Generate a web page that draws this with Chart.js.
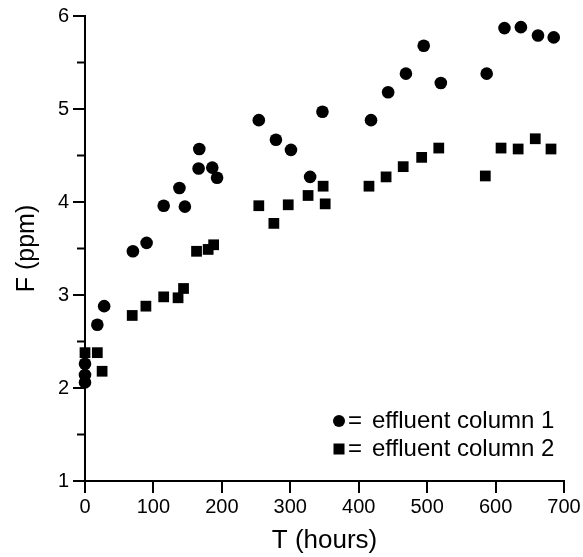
<!DOCTYPE html>
<html>
<head>
<meta charset="utf-8">
<script src="https://cdn.jsdelivr.net/npm/chart.js@4"></script>
<style>
  html, body { margin: 0; padding: 0; background: #fff; }
  #wrap { width: 583px; height: 557px; }
</style>
</head>
<body>
<div id="wrap"><canvas id="chart"></canvas></div>
<script>
// effluent column 1 (circles)
const col1X = [0, 0, 0, 18, 28, 70, 90, 115, 138, 146, 166, 167, 186, 193, 254, 279, 301, 329, 347, 418, 443, 469, 495, 520, 587, 613, 637, 662, 685];
const col1Y = [2.26, 2.14, 2.06, 2.68, 2.88, 3.47, 3.56, 3.96, 4.15, 3.95, 4.36, 4.57, 4.37, 4.26, 4.88, 4.67, 4.56, 4.27, 4.97, 4.88, 5.18, 5.38, 5.68, 5.28, 5.38, 5.87, 5.88, 5.79, 5.77];

// effluent column 2 (squares)
const col2X = [0, 18, 25, 69, 89, 115, 136, 144, 163, 180, 188, 254, 276, 297, 326, 348, 351, 415, 440, 465, 492, 517, 585, 608, 633, 658, 681];
const col2Y = [2.38, 2.38, 2.18, 2.78, 2.88, 2.98, 2.97, 3.07, 3.47, 3.49, 3.54, 3.96, 3.77, 3.97, 4.07, 4.17, 3.98, 4.17, 4.27, 4.38, 4.48, 4.58, 4.28, 4.58, 4.57, 4.68, 4.57];

const xTicks = [0, 100, 200, 300, 400, 500, 600, 700];
const yTicks = [1, 2, 3, 4, 5, 6];
const yMinor = [1.5, 2.5, 3.5, 4.5, 5.5];

const legendLabels = ["effluent column 1", "effluent column 2"];

const toPoints = (xs, ys) => xs.map((x, i) => ({ x, y: ys[i] }));

// minor ticks on y axis + legend inside plot
const extras = {
  id: "extras",
  afterDraw(chart) {
    const ctx = chart.ctx;
    const y = chart.scales.y;
    ctx.save();
    ctx.strokeStyle = "#000";
    ctx.lineWidth = 2;
    yMinor.forEach((v) => {
      const py = y.getPixelForValue(v);
      ctx.beginPath();
      ctx.moveTo(y.right - 8, py);
      ctx.lineTo(y.right, py);
      ctx.stroke();
    });

    // legend
    ctx.fillStyle = "#000";
    ctx.font = "24px 'Liberation Sans', Arial, sans-serif";
    ctx.textBaseline = "middle";
    const lx = 339;
    const rows = [421, 449];
    ctx.beginPath();
    ctx.arc(lx, rows[0], 6, 0, Math.PI * 2);
    ctx.fill();
    ctx.fillRect(lx - 5.5, rows[1] - 5.5, 11, 11);
    legendLabels.forEach((t, i) => {
      ctx.fillText("=", lx + 9, rows[i]);
      ctx.fillText(t, lx + 33, rows[i]);
    });
    ctx.restore();
  },
};

new Chart(document.getElementById("chart"), {
  type: "scatter",
  data: {
    datasets: [
      {
        label: "effluent column 1",
        data: toPoints(col1X, col1Y),
        pointStyle: "circle",
        pointRadius: 6.3,
        backgroundColor: "#000",
        borderWidth: 0,
      },
      {
        label: "effluent column 2",
        data: toPoints(col2X, col2Y),
        pointStyle: "rect",
        pointRadius: 7.6,
        backgroundColor: "#000",
        borderWidth: 0,
      },
    ],
  },
  plugins: [extras],
  options: {
    responsive: true,
    maintainAspectRatio: false,
    animation: false,
    clip: false,
    layout: { padding: { top: 15, right: 19, left: 0, bottom: 0 } },
    plugins: {
      legend: { display: false },
      tooltip: { enabled: false },
    },
    scales: {
      x: {
        type: "linear",
        min: 0,
        max: 700,
        afterFit: (s) => { s.height = 76; },
        afterBuildTicks: (s) => { s.ticks = xTicks.map((v) => ({ value: v })); },
        border: { color: "#000", width: 2 },
        grid: { drawOnChartArea: false, drawTicks: true, tickLength: 12, color: "#000", lineWidth: 2 },
        ticks: {
          color: "#000",
          padding: 2,
          font: { family: "'Liberation Sans', Arial, sans-serif", size: 20 },
        },
        title: {
          display: true,
          text: "T (hours)",
          color: "#000",
          padding: { top: 0, bottom: 1 },
          font: { family: "'Liberation Sans', Arial, sans-serif", size: 26 },
        },
      },
      y: {
        type: "linear",
        min: 1,
        max: 6,
        afterFit: (s) => { s.width = 85; },
        afterBuildTicks: (s) => { s.ticks = yTicks.map((v) => ({ value: v })); },
        border: { color: "#000", width: 2 },
        grid: { drawOnChartArea: false, drawTicks: true, tickLength: 12, color: "#000", lineWidth: 2 },
        ticks: {
          color: "#000",
          padding: 4,
          font: { family: "'Liberation Sans', Arial, sans-serif", size: 20 },
        },
        title: {
          display: true,
          text: "F (ppm)",
          color: "#000",
          padding: { top: 12, bottom: 0 },
          font: { family: "'Liberation Sans', Arial, sans-serif", size: 25 },
        },
      },
    },
  },
});
</script>
</body>
</html>
